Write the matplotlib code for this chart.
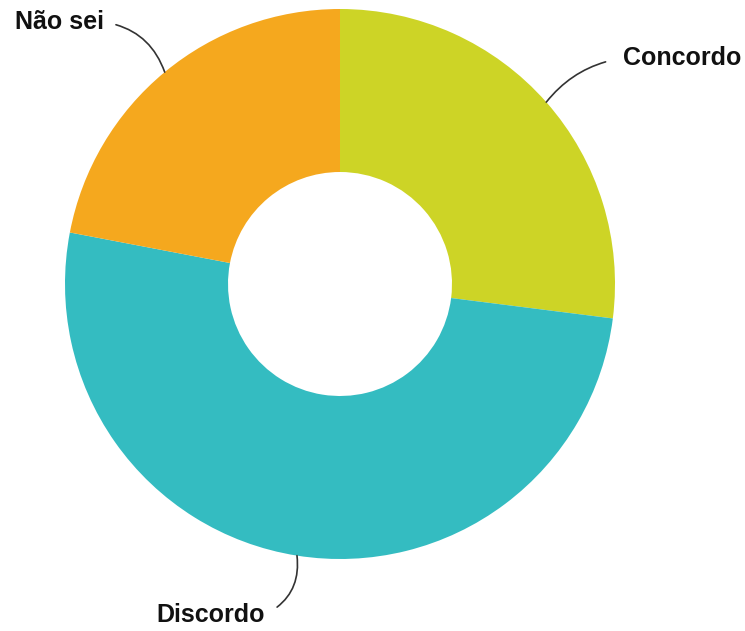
import matplotlib.pyplot as plt
import numpy as np

# Data
labels = ["Concordo", "Discordo", "Não sei"]
values = [27, 51, 22]
colors = ["#CDD426", "#34BCC1", "#F5A81E"]

plt.rcParams['font.family'] = ['Liberation Sans', 'DejaVu Sans']

fig = plt.figure(figsize=(7.45, 6.31), dpi=100)
ax = fig.add_axes([0, 0, 1, 1])

cx, cy, r = 340, 347, 275
wedges, _ = ax.pie(values, colors=colors, startangle=90, counterclock=False,
                   radius=r, center=(cx, cy), frame=True,
                   wedgeprops=dict(width=163, linewidth=0))
ax.set_xlim(0, 745)
ax.set_ylim(0, 631)
ax.set_aspect('equal')
ax.axis('off')

# label offsets from wedge edge, alignment, curvature
label_opts = [
    dict(off=(77, 44), ha='left', rel=(0, 0.5), rad=0.2, shrink=11),
    dict(off=(-32, -59), ha='right', rel=(1, 0.5), rad=0.35, shrink=8),
    dict(off=(-61, 50), ha='right', rel=(1, 0.5), rad=-0.3, shrink=7),
]

for w, lab, opt in zip(wedges, labels, label_opts):
    ang = np.deg2rad((w.theta1 + w.theta2) / 2)
    ex, ey = cx + r * np.cos(ang), cy + r * np.sin(ang)
    ax.annotate(lab, xy=(ex, ey), xytext=(ex + opt['off'][0], ey + opt['off'][1]),
                ha=opt['ha'], va='center', fontsize=18, fontweight='bold',
                color='#111111',
                arrowprops=dict(arrowstyle='-', color='#333333', lw=1.2,
                                shrinkA=opt['shrink'], shrinkB=0, relpos=opt['rel'],
                                connectionstyle=f"arc3,rad={opt['rad']}"))

fig.savefig('out.png', dpi=100)
